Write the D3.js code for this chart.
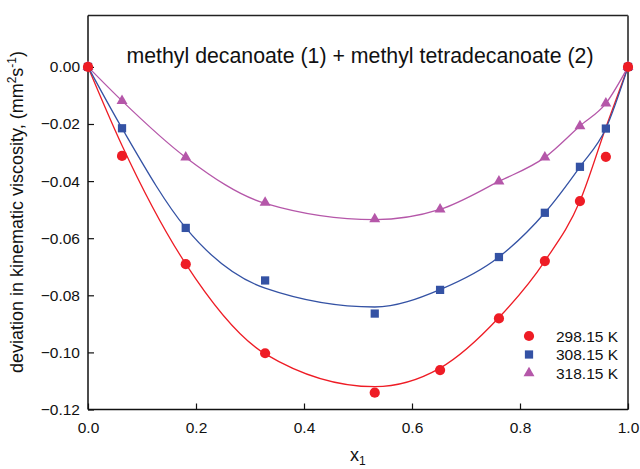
<!DOCTYPE html>
<html>
<head>
<meta charset="utf-8">
<script src="https://cdn.jsdelivr.net/npm/d3@7"></script>
<style>
  html, body { margin: 0; padding: 0; background: #fff; }
  svg { display: block; font-family: "Liberation Sans", Arial, sans-serif; }
</style>
</head>
<body>
<svg id="chart" width="640" height="469"></svg>
<script>
// Mole fraction of methyl decanoate
const x1 = [0, 0.063, 0.181, 0.328, 0.531, 0.652, 0.761, 0.846, 0.911, 0.959, 1];

// Measured deviation in kinematic viscosity (mm² s⁻¹)
const dv298 = [0, -0.0312, -0.0691, -0.1003, -0.1141, -0.1062, -0.0881, -0.0680, -0.0470, -0.0315, 0];
const dv308 = [0, -0.0215, -0.0564, -0.0748, -0.0864, -0.0781, -0.0666, -0.0511, -0.0350, -0.0216, 0];
const dv318 = [0, -0.0119, -0.0317, -0.0475, -0.0533, -0.0499, -0.0401, -0.0317, -0.0207, -0.0128, 0];

// Correlated (fitted) curves evaluated at the same compositions
const fit298 = [0, -0.0275, -0.0690, -0.1005, -0.1120, -0.1055, -0.0878, -0.0680, -0.0470, -0.0212, 0];
const fit308 = [0, -0.0215, -0.0564, -0.0775, -0.0841, -0.0780, -0.0666, -0.0511, -0.0350, -0.0216, 0];
const fit318 = [0, -0.0119, -0.0317, -0.0478, -0.0535, -0.0499, -0.0401, -0.0317, -0.0207, -0.0128, 0];

const seriesNames = ["298.15 K", "308.15 K", "318.15 K"];
const xTicks = [0, 0.2, 0.4, 0.6, 0.8, 1.0];
const yTicks = [0, -0.02, -0.04, -0.06, -0.08, -0.10, -0.12];

const series = [
  { name: seriesNames[0], pts: dv298, fit: fit298, color: "#ee1c25", symbol: d3.symbolCircle, size: 82 },
  { name: seriesNames[1], pts: dv308, fit: fit308, color: "#3452a4", symbol: d3.symbolSquare, size: 68 },
  { name: seriesNames[2], pts: dv318, fit: fit318, color: "#b557a9", symbol: d3.symbolTriangle, size: 52 }
];

const svg = d3.select("#chart");
const L = 88, R = 628, T = 15.5, B = 409.5;

const x = d3.scaleLinear().domain([0, 1]).range([L, R]);
const y = d3.scaleLinear().domain([-0.12, 0.018]).range([B, T]);

// Frame: top and right edges
svg.append("line").attr("x1", L).attr("x2", R).attr("y1", T).attr("y2", T)
  .attr("stroke", "#222").attr("stroke-width", 1.3);
svg.append("line").attr("x1", R).attr("x2", R).attr("y1", T).attr("y2", B)
  .attr("stroke", "#555").attr("stroke-width", 2);

// Axes with inward ticks
const xAxis = d3.axisBottom(x).tickValues(xTicks).tickFormat(d3.format(".1f"))
  .tickSizeInner(-6).tickSizeOuter(0).tickPadding(12);
const yAxis = d3.axisLeft(y).tickValues(yTicks).tickFormat(d => d === 0 ? "0.00" : d3.format(".2f")(d))
  .tickSizeInner(-6).tickSizeOuter(0).tickPadding(8);

const gx = svg.append("g").attr("transform", `translate(0,${B})`).call(xAxis);
const gy = svg.append("g").attr("transform", `translate(${L},0)`).call(yAxis);
[gx, gy].forEach(g => {
  g.select(".domain").attr("stroke", "#111").attr("stroke-width", 1.5);
  g.selectAll(".tick line").attr("stroke", "#111").attr("stroke-width", 1.2);
  g.selectAll(".tick text").attr("fill", "#111").style("font-size", "15.5px")
    .style("font-family", "'Liberation Sans', Arial, sans-serif");
});
gy.select(".domain").attr("d", `M0,${y(0.018)}V${B}`);
gx.select(".domain").attr("d", `M${L},0H${R}`);

// Fitted curves
series.forEach(s => {
  svg.append("path")
    .datum(x1.map((v, i) => [v, s.fit[i]]))
    .attr("fill", "none").attr("stroke", s.color).attr("stroke-width", 1.3)
    .attr("d", d3.line().x(d => x(d[0])).y(d => y(d[1])).curve(d3.curveMonotoneX));
});

// Measured points (drawn from highest temperature to lowest so red sits on top at the ends)
series.slice().reverse().forEach(s => {
  svg.append("g").selectAll("path")
    .data(x1.map((v, i) => [v, s.pts[i]]))
    .join("path")
    .attr("transform", d => `translate(${x(d[0])},${y(d[1])})`)
    .attr("d", d3.symbol().type(s.symbol).size(s.size))
    .attr("fill", s.color);
});

// Title
svg.append("text").attr("x", 360).attr("y", 63).attr("text-anchor", "middle")
  .style("font-size", "21.3px").attr("fill", "#111")
  .text("methyl decanoate (1) + methyl tetradecanoate (2)");

// Axis titles
const yl = svg.append("text")
  .attr("transform", `translate(23,212) rotate(-90)`)
  .attr("text-anchor", "middle").style("font-size", "18px").attr("fill", "#111");
yl.append("tspan").text("deviation in kinematic viscosity, (mm");
yl.append("tspan").attr("dy", -7).style("font-size", "12px").text("2");
yl.append("tspan").attr("dy", 7).text("s");
yl.append("tspan").attr("dy", -7).style("font-size", "12px").text("-1");
yl.append("tspan").attr("dy", 7).text(")");

const xl = svg.append("text").attr("x", 350).attr("y", 461)
  .style("font-size", "18px").attr("fill", "#111");
xl.append("tspan").text("x");
xl.append("tspan").attr("dy", 4).style("font-size", "12px").text("1");

// Legend
const lg = svg.append("g").attr("transform", "translate(529,336)");
series.forEach((s, i) => {
  const row = lg.append("g").attr("transform", `translate(0,${i * 18.5})`);
  row.append("path").attr("d", d3.symbol().type(s.symbol).size(s.size)).attr("fill", s.color);
  row.append("text").attr("x", 27).attr("y", 5.5).style("font-size", "15.5px").attr("fill", "#111").text(s.name);
});
</script>
</body>
</html>
